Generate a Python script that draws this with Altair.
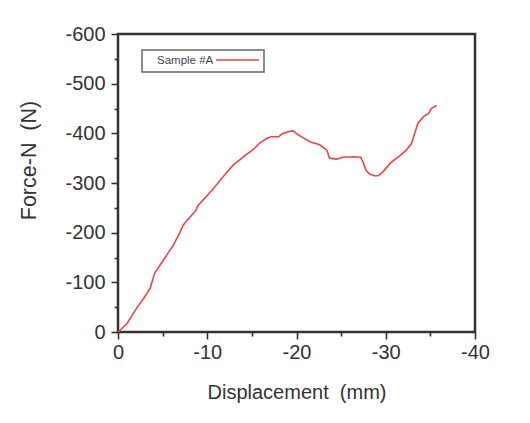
import altair as alt
import pandas as pd

# Data
displacement = [0, -0.97, -2.1, -3.0, -3.6, -4.1, -5.1, -6.2, -6.9, -7.3, -8.1, -8.7, -9.0, -9.7,
                -10.7, -11.8, -12.9, -14.0, -15.2, -15.9, -16.7, -17.2, -18.0, -18.4, -19.1, -19.6,
                -20.2, -21.5, -22.6, -23.4, -23.7, -24.5, -25.2, -26.4, -27.2, -27.5, -27.8, -28.2,
                -28.8, -29.2, -29.7, -30.5, -31.6, -32.3, -32.9, -33.3, -33.6, -34.2, -34.8, -35.1, -35.7]
force = [0, -16, -48, -71, -88, -118, -145, -175, -199, -215, -232, -244, -256, -269,
         -289, -313, -336, -352, -368, -381, -390, -393, -393, -399, -403, -405,
         -397, -383, -377, -366, -350, -348, -352, -353, -352, -340, -325, -318,
         -314, -315, -323, -340, -355, -366, -380, -403, -420, -433, -440, -450, -456]
series_name = "Sample #A"

x_major = [0, -10, -20, -30, -40]
x_minor = [-5, -15, -25, -35]
y_major = [0, -100, -200, -300, -400, -500, -600]
y_minor = [-50, -150, -250, -350, -450, -550]

df = pd.DataFrame({"disp": displacement, "force": force, "idx": list(range(len(force)))})
df["series"] = series_name
leg = pd.DataFrame({"series": [series_name]})

FONT = "Liberation Sans"
RED = "#f04444"
DARK = "#333333"
label_expr = "datum.value == 0 ? '0' : '-' + abs(datum.value)"

xs = alt.Scale(domain=[0, -40], nice=False, zero=False)
ys = alt.Scale(domain=[0, -600], nice=False, zero=False)

x_axis_major = alt.Axis(values=x_major, orient="bottom", labelExpr=label_expr, tickSize=7,
                        labelPadding=3, title="Displacement\u00a0 (mm)", titleFontSize=20,
                        titleFontWeight="normal", titleColor=DARK, titleY=66,
                        titleBaseline="alphabetic", grid=False, domain=False,
                        labelFontSize=20, labelColor=DARK, labelFont=FONT, titleFont=FONT,
                        tickColor=DARK, tickWidth=1.6, labelFlush=False)
y_axis_major = alt.Axis(values=y_major, orient="left", labelExpr=label_expr, tickSize=7,
                        labelPadding=6, title="Force-N\u00a0 (N)", titleFontSize=21.5,
                        titleFontWeight="normal", titleColor=DARK, titleX=-83, titleY=126,
                        titleAngle=270, titleAlign="center", titleBaseline="alphabetic",
                        grid=False, domain=False, labelFontSize=20, labelColor=DARK,
                        labelFont=FONT, titleFont=FONT, tickColor=DARK, tickWidth=1.6,
                        labelBaseline="middle", labelFlush=False)
x_axis_minor = alt.Axis(values=x_minor, orient="bottom", labels=False, tickSize=4, title=None,
                        grid=False, domain=False, tickColor=DARK, tickWidth=1.6)
y_axis_minor = alt.Axis(values=y_minor, orient="left", labels=False, tickSize=4, title=None,
                        grid=False, domain=False, tickColor=DARK, tickWidth=1.6)

line = alt.Chart(df).mark_line(color=RED, strokeWidth=1.6).encode(
    x=alt.X("disp:Q", scale=xs, axis=x_axis_major),
    y=alt.Y("force:Q", scale=ys, axis=y_axis_major),
    order="idx:Q",
)
minor = alt.Chart(df).mark_point(opacity=0).encode(
    x=alt.X("disp:Q", scale=xs, axis=x_axis_minor),
    y=alt.Y("force:Q", scale=ys, axis=y_axis_minor),
)

leg_box = alt.Chart(leg).mark_rect(fill="white", stroke="#666666", strokeWidth=1.5).encode(
    x=alt.value(24), x2=alt.value(146), y=alt.value(16), y2=alt.value(38)
)
leg_text = alt.Chart(leg).mark_text(font=FONT, fontSize=11.5, color="#444444", align="left",
                                    baseline="middle").encode(
    x=alt.value(39), y=alt.value(27), text="series:N"
)
leg_line = alt.Chart(leg).mark_rule(color=RED, strokeWidth=1.6).encode(
    x=alt.value(98), x2=alt.value(141), y=alt.value(26)
)

chart = alt.layer(line, minor, leg_box, leg_text, leg_line).resolve_axis(
    x="independent", y="independent"
).properties(
    width=357, height=298,
    autosize=alt.AutoSizeParams(type="none"),
    padding={"left": 110, "top": 26, "right": 40, "bottom": 80},
    background="white",
).configure_view(
    stroke=DARK, strokeWidth=2.5
)

chart.save("out.html", embed_options={"renderer": "svg", "actions": False})
